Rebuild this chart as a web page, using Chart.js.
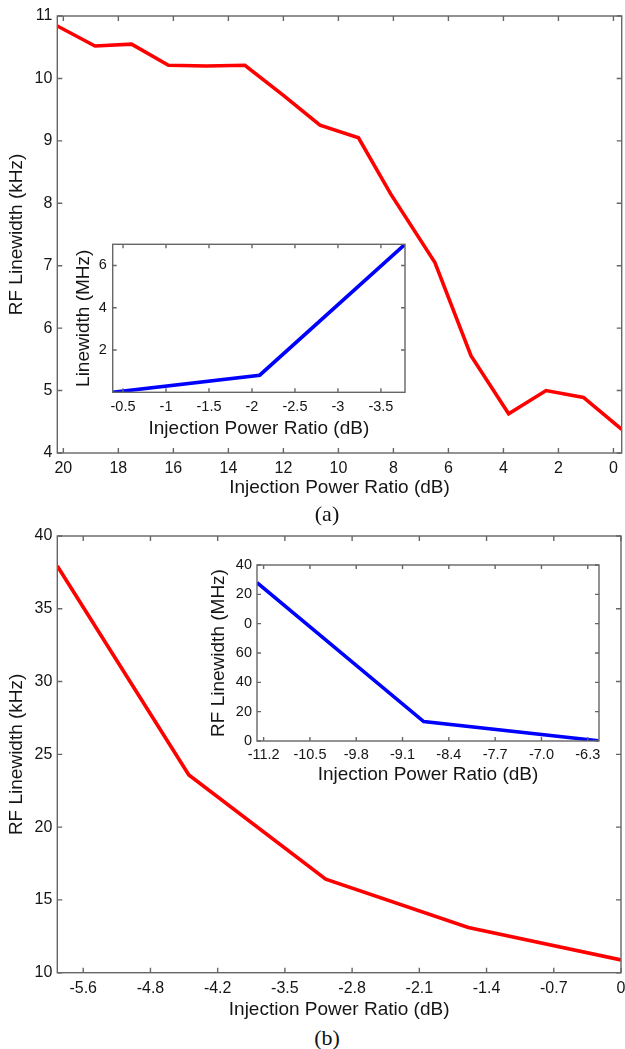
<!DOCTYPE html>
<html><head><meta charset="utf-8">
<script src="https://cdn.jsdelivr.net/npm/chart.js@4.4.1/dist/chart.umd.min.js"></script>
<style>
html,body{margin:0;padding:0;background:#fff;}
#wrap{position:relative;width:625px;height:1049px;overflow:hidden;background:#fff;}
canvas{position:absolute;}
.cap{position:absolute;font-family:'Liberation Serif','Times New Roman',serif;font-size:22px;color:#111;transform:translate(-50%,-50%);white-space:nowrap;}
</style></head><body>
<div id="wrap">
<canvas id="mainA" width="625" height="500" style="left:0;top:0"></canvas>
<canvas id="insetA" width="350" height="205" style="left:65px;top:236px"></canvas>
<canvas id="mainB" width="625" height="505" style="left:0;top:520px"></canvas>
<canvas id="insetB" width="420" height="235" style="left:190px;top:555px"></canvas>
<div class="cap" style="left:327px;top:514px">(a)</div>
<div class="cap" style="left:327px;top:1038px">(b)</div>
</div>
<script>
// ---------- DATA ----------
// (a) main: RF linewidth (kHz) vs injection power ratio (dB)
const mainAX = [20.22, 18.85, 17.52, 16.18, 14.79, 13.4, 12.0, 10.67, 9.27, 8.1, 6.49, 5.18, 3.81, 2.45, 1.09, -0.3];
const mainAY = [10.84, 10.52, 10.55, 10.21, 10.2, 10.21, 9.73, 9.25, 9.05, 8.15, 7.05, 5.56, 4.63, 5.0, 4.89, 4.38];
const mainAXTicks = [20, 18, 16, 14, 12, 10, 8, 6, 4, 2, 0];
const mainAYTicks = [4, 5, 6, 7, 8, 9, 10, 11];
// (a) inset: Linewidth (MHz)
const insetAX = [-0.38, -2.09, -3.78];
const insetAY = [0, 0.81, 7.0];
const insetAXTicks = [-0.5, -1, -1.5, -2, -2.5, -3, -3.5];
const insetAYTicks = [2, 4, 6];
// (b) main
const mainBX = [-5.87, -4.5, -3.075, -1.59, 0];
const mainBY = [37.94, 23.58, 16.42, 13.1, 10.88];
const mainBXTicks = [-5.6, -4.9, -4.2, -3.5, -2.8, -2.1, -1.4, -0.7, 0];
const mainBXTickLabels = ['-5.6', '-4.8', '-4.2', '-3.5', '-2.8', '-2.1', '-1.4', '-0.7', '0'];
const mainBYTicks = [10, 15, 20, 25, 30, 35, 40];
// (b) inset: RF Linewidth (MHz)
const insetBX = [-11.3, -8.78, -6.14];
const insetBY = [108, 13.2, 0.2];
const insetBXTicks = [-11.2, -10.5, -9.8, -9.1, -8.4, -7.7, -7.0, -6.3];
const insetBXTickLabels = ['-11.2', '-10.5', '-9.8', '-9.1', '-8.4', '-7.7', '-7.0', '-6.3'];
const insetBYTicks = [0, 20, 40, 60, 80, 100, 120];
const insetBYTickLabels = ['0', '20', '40', '60', '0', '20', '40'];

// ---------- RENDER ----------
const FONT = "'Liberation Sans', Arial, Helvetica, sans-serif";
const TXT = '#151515';
const AXC = '#666666';

const boxPlugin = {
  id: 'box',
  beforeDraw(chart, args, o) {
    if (o.fill) {
      const a = chart.chartArea, c = chart.ctx;
      c.save(); c.fillStyle = '#fff'; c.fillRect(a.left, a.top, a.right - a.left, a.bottom - a.top); c.restore();
    }
  },
  afterDraw(chart, args, o) {
    const a = chart.chartArea, c = chart.ctx, L = o.len;
    c.save();
    c.strokeStyle = AXC; c.lineWidth = 1.4;
    c.beginPath();
    const xs = chart.scales.x, ys = chart.scales.y;
    xs.ticks.forEach(t => {
      const p = xs.getPixelForValue(t.value);
      c.moveTo(p, a.bottom); c.lineTo(p, a.bottom - L);
      c.moveTo(p, a.top); c.lineTo(p, a.top + L);
    });
    ys.ticks.forEach(t => {
      const p = ys.getPixelForValue(t.value);
      c.moveTo(a.left, p); c.lineTo(a.left + L, p);
      c.moveTo(a.right, p); c.lineTo(a.right - L, p);
    });
    c.stroke();
    c.strokeRect(a.left, a.top, a.right - a.left, a.bottom - a.top);
    c.restore();
  }
};

function build(id, g) {
  const pts = g.xs.map((x, i) => ({x: x, y: g.ys[i]}));
  return new Chart(document.getElementById(id), {
    type: 'line',
    data: {datasets: [{data: pts, borderColor: g.color, borderWidth: 3.6, pointRadius: 0, tension: 0, fill: false}]},
    plugins: [boxPlugin],
    options: {
      responsive: false, animation: false, devicePixelRatio: 1,
      layout: {padding: {left: 0, top: g.padTop, right: g.padRight, bottom: 0}},
      plugins: {legend: {display: false}, tooltip: {enabled: false}, box: {len: g.tickLen, fill: g.fill}},
      scales: {
        x: {
          type: 'linear', min: g.xmin, max: g.xmax, reverse: !!g.xrev,
          grid: {display: false, drawTicks: false, tickLength: 0}, border: {display: false},
          afterBuildTicks: s => { s.ticks = g.xt.map(v => ({value: v})); },
          afterFit: s => { s.height = g.xh; s.paddingLeft = 0; s.paddingRight = 0; s.paddingTop = 0; s.paddingBottom = 0; },
          ticks: {autoSkip: false, maxRotation: 0, minRotation: 0, padding: g.xtp, color: TXT,
                  font: {family: FONT, size: g.tickSize},
                  callback: (v, i) => g.xl ? g.xl[i] : String(g.xt[i])},
          title: {display: true, text: 'Injection Power Ratio (dB)', color: TXT,
                  font: {family: FONT, size: 19}, padding: {top: 0, bottom: g.xtitlePad}}
        },
        y: {
          type: 'linear', min: g.ymin, max: g.ymax,
          grid: {display: false, drawTicks: false, tickLength: 0}, border: {display: false},
          afterBuildTicks: s => { s.ticks = g.yt.map(v => ({value: v})); },
          afterFit: s => { s.width = g.yw; s.paddingLeft = 0; s.paddingRight = 0; s.paddingTop = 0; s.paddingBottom = 0; },
          ticks: {autoSkip: false, padding: g.ytp, color: TXT,
                  font: {family: FONT, size: g.tickSize},
                  callback: (v, i) => g.yl ? g.yl[i] : String(g.yt[i])},
          title: {display: true, text: g.ytitle, color: TXT,
                  font: {family: FONT, size: 19}, padding: {top: g.ytitlePad, bottom: 0}}
        }
      }
    }
  });
}

build('mainA', {xs: mainAX, ys: mainAY, color: '#ff0000', xmin: -0.3, xmax: 20.22, xrev: true, ymin: 4, ymax: 11,
  xt: mainAXTicks, yt: mainAYTicks, padTop: 16, padRight: 3.3, xh: 47, yw: 57.3, xtp: 6, ytp: 5,
  tickSize: 16, tickLen: 5, xtitlePad: 0.6, ytitlePad: 5.5, ytitle: 'RF Linewidth (kHz)', fill: false});

build('insetA', {xs: insetAX, ys: insetAY, color: '#0000ff', xmin: -3.78, xmax: -0.38, xrev: true, ymin: 0, ymax: 7,
  xt: insetAXTicks, yt: insetAYTicks, padTop: 8.3, padRight: 10, xh: 48.7, yw: 47.7, xtp: 6, ytp: 6,
  tickSize: 14.5, tickLen: 4, xtitlePad: 1.3, ytitlePad: 6.9, ytitle: 'Linewidth (MHz)', fill: true});

build('mainB', {xs: mainBX, ys: mainBY, color: '#ff0000', xmin: -5.87, xmax: 0, ymin: 10, ymax: 40,
  xt: mainBXTicks, xl: mainBXTickLabels, yt: mainBYTicks, padTop: 16, padRight: 4, xh: 52.3, yw: 57.3, xtp: 6, ytp: 5,
  tickSize: 16, tickLen: 5, xtitlePad: 3.6, ytitlePad: 5.5, ytitle: 'RF Linewidth (kHz)', fill: false});

build('insetB', {xs: insetBX, ys: insetBY, color: '#0000ff', xmin: -11.3, xmax: -6.13, ymin: 0, ymax: 120,
  xt: insetBXTicks, xl: insetBXTickLabels, yt: insetBYTicks, yl: insetBYTickLabels, padTop: 10, padRight: 11, xh: 49, yw: 67, xtp: 5, ytp: 5,
  tickSize: 14.5, tickLen: 4, xtitlePad: 3.6, ytitlePad: 17.6, ytitle: 'RF Linewidth (MHz)', fill: true});
</script>
</body></html>
